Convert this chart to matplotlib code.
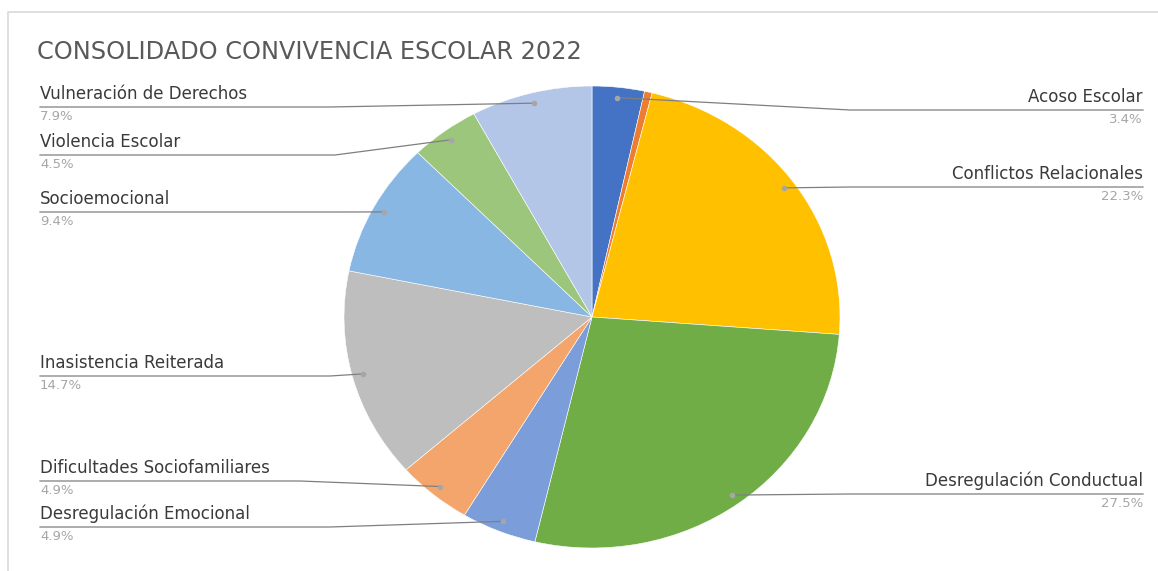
import numpy as np
import matplotlib.pyplot as plt

# Datos del gráfico
categorias = [
    "Acoso Escolar",
    "",
    "Conflictos Relacionales",
    "Desregulación Conductual",
    "Desregulación Emocional",
    "Dificultades Sociofamiliares",
    "Inasistencia Reiterada",
    "Socioemocional",
    "Violencia Escolar",
    "Vulneración de Derechos",
]
valores = [3.4, 0.5, 22.3, 27.5, 4.9, 4.9, 14.7, 9.4, 4.5, 7.9]
etiquetas_pct = ["3.4%", "", "22.3%", "27.5%", "4.9%", "4.9%", "14.7%", "9.4%", "4.5%", "7.9%"]
colores = ["#4472C4", "#ED7D31", "#FFC000", "#70AD47", "#7B9DD9",
           "#F4A56B", "#BEBEBE", "#88B7E3", "#9CC67C", "#B3C6E8"]

W, H = 1158, 571
cx, cy, rx, ry = 592, 317, 248, 231

fig = plt.figure(figsize=(W / 100, H / 100), dpi=100)

ax = fig.add_axes([(cx - rx) / W, (H - cy - ry) / H, 2 * rx / W, 2 * ry / H])
wedges, _ = ax.pie(valores, colors=colores, startangle=90, counterclock=False,
                   wedgeprops=dict(edgecolor="white", linewidth=0.4))
ax.set_aspect("auto")
ax.set_xlim(-1, 1)
ax.set_ylim(-1, 1)
ax.axis("off")

# capa superior en coordenadas de pixel
ov = fig.add_axes([0, 0, 1, 1], zorder=5)
ov.set_xlim(0, W)
ov.set_ylim(H, 0)
ov.axis("off")
ov.patch.set_alpha(0)

# marco
ov.plot([8, 8, W + 5], [H + 5, 12, 12], color="#D9D9D9", lw=1.2)

ov.text(37, 52, "CONSOLIDADO CONVIVENCIA ESCOLAR 2022", fontsize=17.3,
        color="#595959", va="center", ha="left")

# posición de etiquetas: (índice, y de la línea, x del codo, lado)
disposicion = [
    (9, 107, 330, "izq"),
    (8, 155, 335, "izq"),
    (7, 212, 330, "izq"),
    (6, 376, 330, "izq"),
    (5, 481, 300, "izq"),
    (4, 527, 330, "izq"),
    (0, 110, 850, "der"),
    (2, 187, 850, "der"),
    (3, 494, 850, "der"),
]

for i, ly, ex, lado in disposicion:
    w = wedges[i]
    ang = np.deg2rad((w.theta1 + w.theta2) / 2)
    r = 0.955
    px = cx + rx * r * np.cos(ang)
    py = cy - ry * r * np.sin(ang)
    if lado == "izq":
        x0, ha = 40, "left"
    else:
        x0, ha = 1143, "right"
    ov.plot([x0, ex, px], [ly, ly, py], color="#7F7F7F", lw=0.9)
    ov.plot(px, py, "o", color="#A6A6A6", ms=3)
    ov.text(x0, ly - 4, categorias[i], fontsize=12, color="#3A3A3A",
            ha=ha, va="bottom")
    ov.text(x0, ly + 3, etiquetas_pct[i], fontsize=9.5, color="#A6A6A6",
            ha=ha, va="top")

fig.savefig("out.png", dpi=100)
